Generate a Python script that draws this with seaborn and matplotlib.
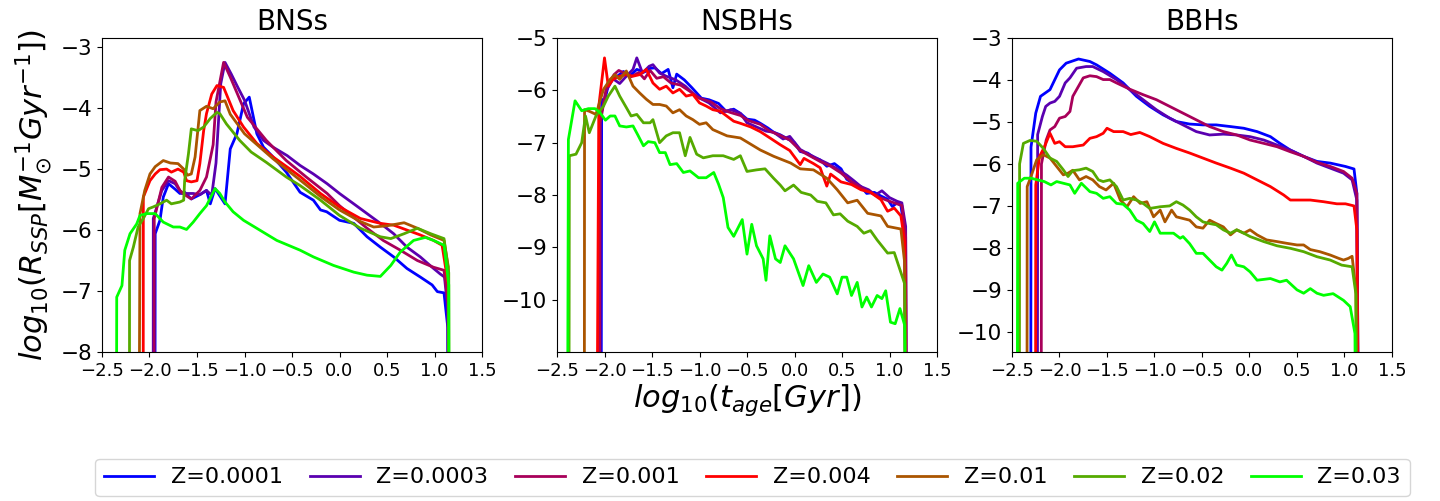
import matplotlib
matplotlib.use("Agg")
import matplotlib.pyplot as plt
import seaborn as sns
import pandas as pd

### Values (log10 t_age [Gyr], log10 R_SSP)
### -20 marks the points where a curve falls off the bottom of the panel

metallicities = ["Z=0.0001", "Z=0.0003", "Z=0.001", "Z=0.004", "Z=0.01", "Z=0.02", "Z=0.03"]
colours = ["#0000ff", "#5a00b0", "#a8005a", "#ff0000", "#aa5500", "#55aa00", "#00ff00"]
panel_titles = ["BNSs", "NSBHs", "BBHs"]

# BNSs
bns_z0001 = [(-1.95, -20), (-1.94, -6.06), (-1.89, -5.84), (-1.855, -5.46), (-1.80, -5.24), (-1.73, -5.33),
             (-1.68, -5.40), (-1.63, -5.38), (-1.56, -5.49), (-1.47, -5.42), (-1.40, -5.35), (-1.36, -5.57),
             (-1.31, -5.32), (-1.205, -5.57), (-1.15, -4.67), (-1.08, -4.42), (-1.01, -3.93), (-0.95, -3.82),
             (-0.87, -4.42), (-0.80, -4.64), (-0.70, -4.80), (-0.56, -5.05), (-0.415, -5.38), (-0.275, -5.51),
             (-0.20, -5.67), (-0.135, -5.70), (0.0, -5.84), (0.15, -5.89), (0.29, -6.11), (0.43, -6.28),
             (0.57, -6.44), (0.71, -6.63), (0.85, -6.77), (0.975, -6.90), (1.03, -7.01), (1.10, -7.03),
             (1.14, -7.6), (1.155, -20)]
bns_z0003 = [(-1.965, -20), (-1.96, -5.81), (-1.87, -5.35), (-1.80, -5.19), (-1.73, -5.24), (-1.66, -5.40),
             (-1.54, -5.40), (-1.47, -5.42), (-1.40, -5.35), (-1.345, -5.43), (-1.30, -4.9), (-1.25, -3.6),
             (-1.205, -3.25), (-1.14, -3.44), (-1.07, -3.66), (-1.0, -3.87), (-0.90, -4.31), (-0.80, -4.53),
             (-0.70, -4.64), (-0.55, -4.78), (-0.415, -4.94), (-0.275, -5.08), (-0.13, -5.24), (0.0, -5.40),
             (0.15, -5.57), (0.29, -5.73), (0.43, -5.89), (0.57, -6.06), (0.71, -6.28), (0.85, -6.44),
             (0.975, -6.61), (1.06, -6.72), (1.105, -6.77), (1.14, -7.3), (1.155, -20)]
bns_z001 = [(-1.955, -20), (-1.95, -5.81), (-1.87, -5.3), (-1.80, -5.13), (-1.73, -5.2), (-1.68, -5.35),
            (-1.63, -5.42), (-1.56, -5.49), (-1.47, -5.35), (-1.40, -5.13), (-1.33, -4.6), (-1.30, -3.9),
            (-1.22, -3.25), (-1.15, -3.49), (-1.06, -3.82), (-0.97, -4.15), (-0.77, -4.53), (-0.56, -4.86),
            (-0.35, -5.13), (-0.13, -5.4), (0.0, -5.6), (0.29, -5.97), (0.46, -6.17), (0.64, -6.33),
            (0.82, -6.5), (0.99, -6.61), (1.10, -6.66), (1.145, -7.2), (1.16, -20)]
bns_z004 = [(-2.07, -20), (-2.065, -5.46), (-1.995, -5.19), (-1.94, -5.08), (-1.89, -5.01), (-1.82, -5.0),
            (-1.77, -5.05), (-1.70, -5.0), (-1.64, -5.05), (-1.61, -5.19), (-1.56, -5.21), (-1.50, -5.19),
            (-1.47, -4.91), (-1.43, -4.37), (-1.40, -4.09), (-1.345, -3.77), (-1.29, -3.63), (-1.22, -3.66),
            (-1.12, -4.04), (-1.01, -4.31), (-0.87, -4.58), (-0.70, -4.8), (-0.52, -5.0), (-0.415, -5.12),
            (-0.2, -5.40), (0.0, -5.62), (0.22, -5.81), (0.43, -5.89), (0.57, -5.92), (0.71, -6.0),
            (0.85, -6.08), (0.99, -6.17), (1.08, -6.25), (1.145, -6.9), (1.16, -20)]
bns_z01 = [(-2.135, -20), (-2.10, -5.73), (-2.05, -5.35), (-1.995, -5.08), (-1.94, -4.96), (-1.855, -4.86),
           (-1.78, -4.9), (-1.70, -4.91), (-1.64, -5.0), (-1.60, -5.1), (-1.56, -5.08), (-1.52, -4.80),
           (-1.47, -4.04), (-1.40, -3.97), (-1.33, -4.01), (-1.26, -3.9), (-1.205, -3.88), (-1.15, -4.1),
           (-1.0, -4.42), (-0.70, -4.83), (-0.415, -5.18), (-0.2, -5.45), (0.0, -5.67), (0.22, -5.86),
           (0.36, -5.95), (0.50, -5.93), (0.68, -5.88), (0.82, -5.97), (0.96, -6.08), (1.10, -6.17),
           (1.145, -6.6), (1.16, -20)]
bns_z02 = [(-2.215, -20), (-2.21, -6.5), (-2.17, -6.28), (-2.12, -5.95), (-2.065, -5.81), (-2.01, -5.65),
           (-1.96, -5.62), (-1.89, -5.57), (-1.82, -5.51), (-1.77, -5.57), (-1.68, -5.54), (-1.64, -5.51),
           (-1.63, -5.19), (-1.59, -4.75), (-1.56, -4.34), (-1.49, -4.37), (-1.43, -4.31), (-1.36, -4.17),
           (-1.29, -4.07), (-1.26, -4.09), (-1.19, -4.26), (-1.05, -4.53), (-0.93, -4.72), (-0.77, -4.89),
           (-0.56, -5.13), (-0.415, -5.27), (-0.2, -5.51), (0.0, -5.76), (0.22, -5.97), (0.43, -6.11),
           (0.54, -6.14), (0.68, -6.06), (0.82, -5.97), (0.96, -6.06), (1.10, -6.14), (1.15, -6.7),
           (1.165, -20)]
bns_z03 = [(-2.36, -20), (-2.345, -7.1), (-2.29, -6.91), (-2.26, -6.33), (-2.205, -6.06), (-2.135, -5.9),
           (-2.10, -5.76), (-2.03, -5.73), (-1.94, -5.73), (-1.855, -5.87), (-1.75, -5.95), (-1.68, -5.95),
           (-1.61, -5.99), (-1.54, -5.87), (-1.47, -5.73), (-1.40, -5.6), (-1.31, -5.32), (-1.26, -5.40),
           (-1.205, -5.54), (-1.12, -5.70), (-1.01, -5.84), (-0.84, -6.0), (-0.66, -6.17), (-0.415, -6.33),
           (-0.275, -6.44), (-0.063, -6.58), (0.15, -6.69), (0.29, -6.74), (0.43, -6.76), (0.54, -6.58),
           (0.64, -6.36), (0.78, -6.17), (0.905, -6.12), (0.99, -6.17), (1.10, -6.25), (1.15, -6.9),
           (1.165, -20)]

# NSBHs
nsbh_z0001 = [(-2.04, -20), (-2.03, -6.17), (-2.0, -6.21), (-1.95, -5.83), (-1.88, -5.75), (-1.80, -5.64),
              (-1.73, -5.72), (-1.66, -5.60), (-1.58, -5.65), (-1.52, -5.58), (-1.47, -5.57), (-1.40, -5.68),
              (-1.33, -5.60), (-1.28, -5.95), (-1.24, -5.69), (-1.16, -5.80), (-1.08, -5.95), (-0.98, -6.15),
              (-0.90, -6.18), (-0.80, -6.25), (-0.72, -6.40), (-0.64, -6.36), (-0.57, -6.44), (-0.50, -6.55),
              (-0.42, -6.57), (-0.36, -6.63), (-0.28, -6.72), (-0.22, -6.80), (-0.15, -6.85), (-0.08, -6.92),
              (0.0, -7.0), (0.06, -7.17), (0.14, -7.20), (0.20, -7.28), (0.27, -7.33), (0.34, -7.45),
              (0.42, -7.40), (0.49, -7.50), (0.55, -7.70), (0.62, -7.78), (0.70, -7.84), (0.76, -7.97),
              (0.84, -7.95), (0.91, -8.02), (0.98, -8.08), (1.03, -8.22), (1.08, -8.15), (1.12, -8.2),
              (1.16, -8.7), (1.19, -20)]
nsbh_z0003 = [(-2.06, -20), (-2.05, -6.56), (-1.98, -6.0), (-1.91, -5.78), (-1.84, -5.87), (-1.77, -5.73),
              (-1.70, -5.60), (-1.66, -5.38), (-1.60, -5.67), (-1.53, -5.54), (-1.49, -5.51), (-1.42, -5.67),
              (-1.35, -5.73), (-1.25, -5.80), (-1.15, -5.92), (-1.04, -6.11), (-0.90, -6.24), (-0.78, -6.43),
              (-0.67, -6.37), (-0.57, -6.44), (-0.50, -6.62), (-0.40, -6.70), (-0.30, -6.78), (-0.22, -6.80),
              (-0.12, -6.93), (-0.05, -6.88), (0.06, -7.13), (0.15, -7.22), (0.27, -7.33), (0.35, -7.40),
              (0.45, -7.50), (0.55, -7.62), (0.62, -7.72), (0.70, -7.84), (0.78, -7.90), (0.85, -8.00),
              (0.92, -7.92), (1.0, -8.05), (1.08, -8.12), (1.13, -8.15), (1.17, -8.6), (1.20, -20)]
nsbh_z001 = [(-2.055, -20), (-2.045, -6.62), (-1.98, -5.95), (-1.90, -5.70), (-1.85, -5.62), (-1.78, -5.68),
             (-1.72, -5.74), (-1.64, -5.66), (-1.58, -5.78), (-1.52, -5.62), (-1.45, -5.77), (-1.38, -5.74),
             (-1.30, -5.86), (-1.20, -5.90), (-1.10, -6.02), (-1.0, -6.15), (-0.88, -6.22), (-0.78, -6.35),
             (-0.68, -6.42), (-0.57, -6.48), (-0.48, -6.58), (-0.36, -6.65), (-0.26, -6.78), (-0.15, -6.86),
             (-0.05, -6.95), (0.06, -7.15), (0.16, -7.25), (0.27, -7.36), (0.38, -7.45), (0.49, -7.58),
             (0.60, -7.75), (0.70, -7.86), (0.80, -7.95), (0.90, -8.05), (1.00, -8.12), (1.13, -8.20),
             (1.17, -8.8), (1.20, -20)]
nsbh_z004 = [(-2.10, -20), (-2.06, -6.3), (-2.0, -5.38), (-1.96, -5.92), (-1.91, -5.79), (-1.84, -5.73),
             (-1.77, -5.70), (-1.70, -5.73), (-1.63, -5.70), (-1.56, -5.60), (-1.49, -5.86), (-1.42, -5.98),
             (-1.35, -5.92), (-1.28, -6.05), (-1.21, -5.98), (-1.14, -6.11), (-1.07, -6.08), (-1.0, -6.24),
             (-0.93, -6.30), (-0.86, -6.37), (-0.78, -6.40), (-0.64, -6.59), (-0.57, -6.63), (-0.46, -6.70),
             (-0.36, -6.79), (-0.25, -6.92), (-0.15, -7.04), (-0.05, -7.15), (0.06, -7.42), (0.10, -7.30),
             (0.20, -7.40), (0.27, -7.48), (0.34, -7.83), (0.38, -7.60), (0.49, -7.75), (0.60, -7.80),
             (0.70, -7.90), (0.80, -7.95), (0.91, -8.09), (0.98, -8.31), (1.05, -8.25), (1.12, -8.4),
             (1.16, -8.9), (1.19, -20)]
nsbh_z01 = [(-2.215, -20), (-2.21, -6.37), (-2.16, -6.40), (-2.09, -6.46), (-2.01, -5.98), (-1.94, -5.79),
            (-1.89, -5.70), (-1.84, -5.79), (-1.77, -5.63), (-1.70, -5.92), (-1.63, -6.05), (-1.56, -6.17),
            (-1.49, -6.27), (-1.42, -6.27), (-1.35, -6.30), (-1.28, -6.43), (-1.21, -6.37), (-1.14, -6.49),
            (-1.07, -6.56), (-1.0, -6.65), (-0.93, -6.62), (-0.86, -6.75), (-0.71, -6.87), (-0.57, -6.91),
            (-0.36, -7.14), (-0.22, -7.26), (-0.04, -7.39), (0.06, -7.50), (0.20, -7.52), (0.34, -7.68),
            (0.45, -7.90), (0.56, -8.15), (0.66, -8.10), (0.77, -8.35), (0.91, -8.40), (0.98, -8.60),
            (1.12, -8.65), (1.16, -9.3), (1.19, -20)]
nsbh_z02 = [(-2.38, -20), (-2.37, -7.25), (-2.30, -7.22), (-2.24, -7.0), (-2.20, -6.49), (-2.16, -6.81),
            (-2.09, -6.49), (-2.01, -6.30), (-1.96, -6.11), (-1.89, -5.92), (-1.84, -6.11), (-1.77, -6.33),
            (-1.72, -6.49), (-1.66, -6.46), (-1.59, -6.62), (-1.52, -6.62), (-1.49, -6.56), (-1.42, -7.0),
            (-1.35, -6.87), (-1.28, -6.81), (-1.21, -6.81), (-1.15, -7.25), (-1.10, -6.90), (-1.03, -7.22),
            (-0.96, -7.29), (-0.86, -7.25), (-0.75, -7.25), (-0.64, -7.32), (-0.57, -7.25), (-0.50, -7.55),
            (-0.40, -7.52), (-0.31, -7.50), (-0.22, -7.68), (-0.15, -7.81), (-0.10, -7.92), (-0.01, -7.81),
            (0.07, -7.95), (0.17, -8.0), (0.24, -8.12), (0.33, -8.15), (0.41, -8.38), (0.48, -8.36),
            (0.56, -8.50), (0.66, -8.60), (0.73, -8.73), (0.80, -8.68), (0.87, -8.86), (0.98, -9.11),
            (1.05, -9.10), (1.16, -9.7), (1.20, -20)]
nsbh_z03 = [(-2.40, -20), (-2.38, -6.94), (-2.31, -6.2), (-2.24, -6.39), (-2.17, -6.35), (-2.10, -6.35),
            (-2.05, -6.42), (-1.99, -6.57), (-1.94, -6.49), (-1.89, -6.49), (-1.84, -6.68), (-1.77, -6.70),
            (-1.70, -6.68), (-1.65, -6.85), (-1.59, -7.06), (-1.54, -6.98), (-1.47, -7.0), (-1.42, -7.19),
            (-1.36, -7.19), (-1.31, -7.42), (-1.24, -7.40), (-1.17, -7.57), (-1.10, -7.54), (-1.01, -7.67),
            (-0.93, -7.67), (-0.85, -7.57), (-0.80, -7.79), (-0.75, -8.05), (-0.70, -8.62), (-0.64, -8.79),
            (-0.55, -8.47), (-0.50, -9.13), (-0.45, -8.56), (-0.40, -8.97), (-0.33, -9.22), (-0.30, -9.63),
            (-0.26, -8.78), (-0.20, -9.22), (-0.15, -9.29), (-0.10, -8.97), (-0.01, -9.22), (0.09, -9.73),
            (0.15, -9.35), (0.23, -9.67), (0.30, -9.51), (0.37, -9.57), (0.45, -9.89), (0.50, -9.57),
            (0.55, -9.57), (0.60, -9.92), (0.66, -9.67), (0.71, -10.14), (0.76, -9.95), (0.81, -10.14),
            (0.87, -9.92), (0.92, -9.98), (0.96, -9.83), (1.01, -10.43), (1.06, -10.46), (1.11, -10.17),
            (1.16, -10.49), (1.20, -20)]

# BBHs
bbh_z0001 = [(-2.305, -20), (-2.30, -5.6), (-2.25, -4.79), (-2.20, -4.39), (-2.10, -4.23), (-2.0, -3.76),
             (-1.93, -3.6), (-1.80, -3.5), (-1.68, -3.56), (-1.61, -3.64), (-1.47, -3.84), (-1.33, -4.07),
             (-1.19, -4.39), (-1.05, -4.63), (-0.91, -4.83), (-0.77, -4.99), (-0.63, -5.05), (-0.49, -5.07),
             (-0.35, -5.07), (-0.20, -5.11), (-0.06, -5.15), (0.08, -5.23), (0.22, -5.35), (0.32, -5.51),
             (0.43, -5.67), (0.57, -5.82), (0.71, -5.94), (0.85, -5.98), (1.01, -6.06), (1.10, -6.12),
             (1.13, -6.7), (1.16, -20)]
bbh_z0003 = [(-2.235, -20), (-2.23, -5.3), (-2.18, -4.87), (-2.145, -4.63), (-2.10, -4.55), (-2.05, -4.51),
             (-2.0, -4.39), (-1.94, -4.07), (-1.89, -3.95), (-1.82, -3.72), (-1.72, -3.68), (-1.65, -3.68),
             (-1.54, -3.8), (-1.40, -3.99), (-1.26, -4.23), (-1.12, -4.47), (-0.98, -4.71), (-0.84, -4.91),
             (-0.70, -5.07), (-0.56, -5.23), (-0.42, -5.31), (-0.275, -5.29), (-0.135, -5.31), (0.006, -5.35),
             (0.15, -5.43), (0.29, -5.55), (0.43, -5.67), (0.57, -5.82), (0.71, -5.98), (0.85, -6.1),
             (0.99, -6.22), (1.08, -6.38), (1.13, -6.86), (1.17, -20)]
bbh_z001 = [(-2.195, -20), (-2.19, -6.0), (-2.14, -5.43), (-2.10, -5.19), (-2.05, -5.11), (-2.0, -4.91),
            (-1.94, -4.87), (-1.89, -4.75), (-1.86, -4.39), (-1.80, -4.15), (-1.75, -3.95), (-1.68, -3.9),
            (-1.61, -3.92), (-1.54, -3.99), (-1.47, -3.99), (-1.40, -4.07), (-1.26, -4.22), (-1.12, -4.35),
            (-0.98, -4.47), (-0.84, -4.63), (-0.70, -4.79), (-0.56, -4.95), (-0.42, -5.11), (-0.275, -5.23),
            (-0.135, -5.31), (0.006, -5.43), (0.15, -5.51), (0.29, -5.59), (0.43, -5.71), (0.57, -5.82),
            (0.71, -5.96), (0.85, -6.06), (0.99, -6.18), (1.08, -6.34), (1.13, -6.7), (1.17, -20)]
bbh_z004 = [(-2.255, -20), (-2.25, -6.5), (-2.21, -5.82), (-2.16, -5.6), (-2.10, -5.27), (-2.05, -5.51),
            (-2.0, -5.47), (-1.94, -5.59), (-1.86, -5.59), (-1.75, -5.55), (-1.68, -5.39), (-1.61, -5.35),
            (-1.54, -5.27), (-1.50, -5.15), (-1.43, -5.23), (-1.33, -5.23), (-1.25, -5.30), (-1.155, -5.25),
            (-1.05, -5.35), (-0.91, -5.51), (-0.77, -5.63), (-0.63, -5.74), (-0.49, -5.86), (-0.35, -5.98),
            (-0.20, -6.1), (-0.06, -6.22), (0.08, -6.38), (0.22, -6.54), (0.36, -6.74), (0.43, -6.86),
            (0.50, -6.86), (0.64, -6.86), (0.78, -6.9), (0.92, -6.95), (1.01, -6.95), (1.10, -7.0),
            (1.13, -7.57), (1.16, -20)]
bbh_z01 = [(-2.345, -20), (-2.34, -6.54), (-2.30, -6.30), (-2.24, -5.90), (-2.17, -5.78), (-2.10, -5.86),
           (-2.03, -6.06), (-1.96, -6.26), (-1.91, -6.22), (-1.86, -6.15), (-1.79, -6.38), (-1.72, -6.30),
           (-1.65, -6.38), (-1.58, -6.54), (-1.51, -6.62), (-1.43, -6.46), (-1.36, -6.86), (-1.29, -7.02),
           (-1.22, -6.78), (-1.15, -6.94), (-1.08, -6.90), (-1.01, -7.26), (-0.94, -7.10), (-0.89, -7.38),
           (-0.82, -7.10), (-0.77, -7.26), (-0.70, -7.30), (-0.63, -7.34), (-0.56, -7.50), (-0.49, -7.53),
           (-0.42, -7.34), (-0.35, -7.42), (-0.275, -7.50), (-0.20, -7.69), (-0.135, -7.57), (-0.06, -7.65),
           (0.006, -7.57), (0.08, -7.69), (0.18, -7.81), (0.29, -7.85), (0.39, -7.89), (0.50, -7.93),
           (0.57, -7.93), (0.64, -8.04), (0.74, -8.09), (0.85, -8.17), (0.94, -8.25), (0.99, -8.29),
           (1.04, -8.25), (1.08, -8.2), (1.12, -9.0), (1.15, -20)]
bbh_z02 = [(-2.425, -20), (-2.42, -6.0), (-2.38, -5.51), (-2.31, -5.44), (-2.24, -5.46), (-2.17, -5.63),
           (-2.10, -5.86), (-2.03, -5.94), (-1.96, -6.14), (-1.91, -6.30), (-1.86, -6.16), (-1.79, -6.14),
           (-1.72, -6.10), (-1.65, -6.18), (-1.59, -6.38), (-1.54, -6.42), (-1.47, -6.38), (-1.40, -6.54),
           (-1.33, -6.86), (-1.26, -6.82), (-1.19, -6.86), (-1.12, -6.94), (-1.05, -7.06), (-0.94, -7.02),
           (-0.84, -7.0), (-0.77, -6.90), (-0.70, -6.98), (-0.63, -7.10), (-0.56, -7.26), (-0.49, -7.38),
           (-0.42, -7.42), (-0.35, -7.45), (-0.275, -7.57), (-0.20, -7.65), (-0.135, -7.57), (-0.06, -7.65),
           (0.006, -7.73), (0.15, -7.85), (0.29, -7.95), (0.43, -8.01), (0.57, -8.09), (0.71, -8.21),
           (0.85, -8.29), (0.97, -8.41), (1.08, -8.45), (1.12, -9.1), (1.15, -20)]
bbh_z03 = [(-2.45, -20), (-2.44, -6.46), (-2.37, -6.34), (-2.30, -6.34), (-2.23, -6.38), (-2.16, -6.42),
           (-2.09, -6.5), (-2.03, -6.42), (-1.96, -6.46), (-1.89, -6.5), (-1.84, -6.7), (-1.77, -6.46),
           (-1.68, -6.66), (-1.61, -6.70), (-1.54, -6.82), (-1.47, -6.78), (-1.40, -6.94), (-1.33, -6.96),
           (-1.26, -7.10), (-1.19, -7.34), (-1.12, -7.42), (-1.05, -7.61), (-1.0, -7.38), (-0.94, -7.65),
           (-0.87, -7.65), (-0.80, -7.65), (-0.73, -7.77), (-0.70, -7.73), (-0.63, -7.90), (-0.56, -8.13),
           (-0.49, -8.13), (-0.42, -8.29), (-0.35, -8.45), (-0.29, -8.53), (-0.24, -8.37), (-0.19, -8.17),
           (-0.135, -8.41), (-0.06, -8.45), (0.006, -8.57), (0.08, -8.77), (0.15, -8.75), (0.22, -8.73),
           (0.32, -8.81), (0.39, -8.77), (0.50, -9.0), (0.57, -9.08), (0.64, -8.97), (0.71, -9.08),
           (0.78, -9.13), (0.88, -9.09), (0.99, -9.25), (1.06, -9.4), (1.11, -10.04), (1.14, -20)]

bns_curves = [bns_z0001, bns_z0003, bns_z001, bns_z004, bns_z01, bns_z02, bns_z03]
nsbh_curves = [nsbh_z0001, nsbh_z0003, nsbh_z001, nsbh_z004, nsbh_z01, nsbh_z02, nsbh_z03]
bbh_curves = [bbh_z0001, bbh_z0003, bbh_z001, bbh_z004, bbh_z01, bbh_z02, bbh_z03]

y_limits = [(-8, -2.85), (-11, -5), (-10.48, -3)]
y_ticks = [range(-8, -2), range(-10, -4), range(-10, -2)]

####

def toFrame(curves):
  rows = []
  for label, points in zip(metallicities, curves):
    for x, y in points:
      rows.append((label, x, y))
  return pd.DataFrame(rows, columns=["Z", "logt", "logR"])

fig = plt.figure(figsize=(14.4, 5.01), dpi=100)
lefts = [102 / 1440, 557 / 1440, 1012 / 1440]
axes = [fig.add_axes([l, 1 - 352 / 501, 380 / 1440, 314 / 501]) for l in lefts]

for i, (ax, curves) in enumerate(zip(axes, [bns_curves, nsbh_curves, bbh_curves])):
  df = toFrame(curves)
  sns.lineplot(data=df, x="logt", y="logR", hue="Z", hue_order=metallicities, palette=colours,
               sort=False, estimator=None, linewidth=2, ax=ax, legend=(i == 0))
  ax.set_xlim(-2.5, 1.5)
  ax.set_xticks([-2.5, -2.0, -1.5, -1.0, -0.5, 0.0, 0.5, 1.0, 1.5])
  ax.set_ylim(*y_limits[i])
  ax.set_yticks(list(y_ticks[i]))
  ax.tick_params(axis="x", labelsize=13)
  ax.tick_params(axis="y", labelsize=15.5)
  ax.set_title(panel_titles[i], fontsize=20)
  ax.set_xlabel("")
  ax.set_ylabel("")

axes[0].set_ylabel(r"$log_{10}(R_{SSP}[M_{\odot}^{-1}Gyr^{-1}])$", fontsize=22, labelpad=4)
axes[1].set_xlabel(r"$log_{10}(t_{age}[Gyr])$", fontsize=22, labelpad=2)

handles, labels = axes[0].get_legend_handles_labels()
axes[0].get_legend().remove()
fig.legend(handles, labels, loc="center", bbox_to_anchor=(0.5226, 0.047), ncol=7, fontsize=16,
           handlelength=2.25, handletextpad=0.75, columnspacing=1.2)

fig.savefig("out.png", dpi=100)
